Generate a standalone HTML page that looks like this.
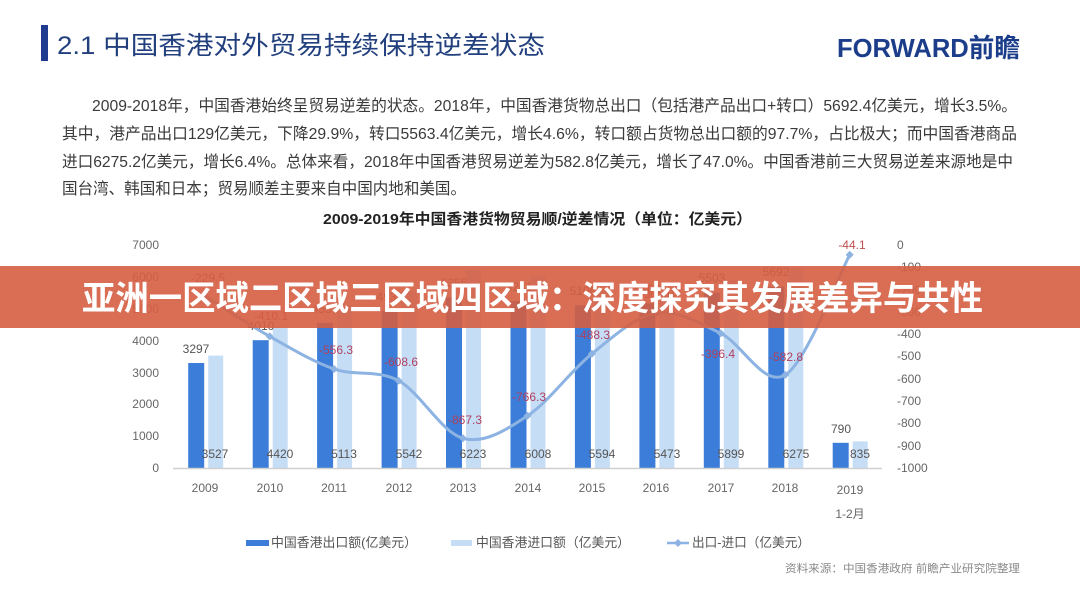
<!DOCTYPE html>
<html><head><meta charset="utf-8"><style>
html,body{margin:0;padding:0;background:#fff;}
svg{display:block;}
text{font-family:"Liberation Sans","Noto Sans CJK SC",sans-serif;}
</style></head><body>
<svg width="1080" height="595" viewBox="0 0 1080 595" xmlns="http://www.w3.org/2000/svg">
<rect width="1080" height="595" fill="#ffffff"/>
<!-- header -->
<rect x="41" y="25" width="7" height="36" fill="#1f3b8f"/>
<text x="57" y="54" font-size="25" fill="#23407e" textLength="488" lengthAdjust="spacingAndGlyphs">2.1 中国香港对外贸易持续保持逆差状态</text>
<text x="837" y="57" font-size="26" font-weight="bold" fill="#1b3d8a" textLength="183" lengthAdjust="spacingAndGlyphs">FORWARD前瞻</text>

<!-- paragraph -->
<g font-size="16" fill="#3a3a3a">
<text x="92" y="111" textLength="925" lengthAdjust="spacingAndGlyphs">2009-2018年，中国香港始终呈贸易逆差的状态。2018年，中国香港货物总出口（包括港产品出口+转口）5692.4亿美元，增长3.5%。</text>
<text x="62" y="139" textLength="955" lengthAdjust="spacingAndGlyphs">其中，港产品出口129亿美元，下降29.9%，转口5563.4亿美元，增长4.6%，转口额占货物总出口额的97.7%，占比极大；而中国香港商品</text>
<text x="62" y="167" textLength="951" lengthAdjust="spacingAndGlyphs">进口6275.2亿美元，增长6.4%。总体来看，2018年中国香港贸易逆差为582.8亿美元，增长了47.0%。中国香港前三大贸易逆差来源地是中</text>
<text x="62" y="194" textLength="404" lengthAdjust="spacingAndGlyphs">国台湾、韩国和日本；贸易顺差主要来自中国内地和美国。</text>
</g>

<!-- chart title -->
<text x="323" y="224" font-size="15" font-weight="bold" fill="#222" textLength="429" lengthAdjust="spacingAndGlyphs">2009-2019年中国香港货物贸易顺/逆差情况（单位：亿美元）</text>

<!-- left axis labels -->
<g font-size="12" fill="#666" text-anchor="end">
<text x="159" y="249">7000</text>
<text x="159" y="281">6000</text>
<text x="159" y="313">5000</text>
<text x="159" y="345">4000</text>
<text x="159" y="377">3000</text>
<text x="159" y="408">2000</text>
<text x="159" y="440">1000</text>
<text x="159" y="472">0</text>
</g>
<!-- right axis labels -->
<g font-size="12" fill="#666">
<text x="897" y="249">0</text>
<text x="897" y="271">-100</text>
<text x="897" y="294">-200</text>
<text x="897" y="316">-300</text>
<text x="897" y="338">-400</text>
<text x="897" y="360">-500</text>
<text x="897" y="383">-600</text>
<text x="897" y="405">-700</text>
<text x="897" y="427">-800</text>
<text x="897" y="450">-900</text>
<text x="897" y="472">-1000</text>
</g>

<!-- bars -->
<g fill="#3b7dd8">
<rect x="188.2" y="363.0" width="16" height="105.0"/>
<rect x="252.7" y="340.2" width="16" height="127.8"/>
<rect x="317.1" y="322.8" width="16" height="145.2"/>
<rect x="381.6" y="310.8" width="16" height="157.2"/>
<rect x="446.0" y="297.4" width="16" height="170.6"/>
<rect x="510.5" y="301.0" width="16" height="167.0"/>
<rect x="574.9" y="305.3" width="16" height="162.7"/>
<rect x="639.4" y="303.3" width="16" height="164.7"/>
<rect x="703.8" y="292.7" width="16" height="175.3"/>
<rect x="768.3" y="286.7" width="16" height="181.3"/>
<rect x="832.7" y="442.8" width="16" height="25.2"/>
</g>
<g fill="#c6ddf6">
<rect x="208.2" y="355.6" width="15" height="112.4"/>
<rect x="272.7" y="327.2" width="15" height="140.8"/>
<rect x="337.1" y="305.1" width="15" height="162.9"/>
<rect x="401.6" y="291.4" width="15" height="176.6"/>
<rect x="466.0" y="269.7" width="15" height="198.3"/>
<rect x="530.5" y="276.6" width="15" height="191.4"/>
<rect x="594.9" y="289.8" width="15" height="178.2"/>
<rect x="659.4" y="293.6" width="15" height="174.4"/>
<rect x="723.8" y="280.1" width="15" height="187.9"/>
<rect x="788.3" y="268.1" width="15" height="199.9"/>
<rect x="852.7" y="441.4" width="15" height="26.6"/>
</g>
<line x1="173" y1="468.5" x2="882" y2="468.5" stroke="#d0d0d0" stroke-width="1.5"/>

<!-- export labels -->
<g font-size="12" fill="#555" text-anchor="middle">
<text x="196" y="353">3297</text>
<text x="261" y="330">4010</text>
<text x="325" y="313">4557</text>
<text x="390" y="301">4934</text>
<text x="454" y="287">5355</text>
<text x="519" y="291">5241</text>
<text x="583" y="295">5106</text>
<text x="647" y="293">5168</text>
<text x="712" y="282">5503</text>
<text x="776" y="276">5692</text>
<text x="841" y="433">790</text>
</g>
<!-- import labels -->
<g font-size="12" fill="#555" text-anchor="middle">
<text x="215" y="458">3527</text>
<text x="280" y="458">4420</text>
<text x="344" y="458">5113</text>
<text x="409" y="458">5542</text>
<text x="473" y="458">6223</text>
<text x="538" y="458">6008</text>
<text x="602" y="458">5594</text>
<text x="667" y="458">5473</text>
<text x="731" y="458">5899</text>
<text x="796" y="458">6275</text>
<text x="860" y="458">835</text>
</g>

<!-- deficit line -->
<path d="M205.2,296.2 C215.9,302.9 248.2,324.3 269.7,336.4 C291.2,348.5 312.6,361.6 334.1,369.0 C355.6,376.4 377.1,369.2 398.6,380.7 C420.1,392.3 441.5,432.5 463.0,438.3 C484.5,444.2 506.0,429.9 527.5,415.8 C549.0,401.7 570.4,370.9 591.9,353.8 C613.4,336.7 634.9,316.4 656.4,313.0 C677.9,309.6 699.3,323.1 720.8,333.4 C742.3,343.7 763.8,388.0 785.3,374.9 C806.8,361.8 839.0,274.8 849.7,254.8" fill="none" stroke="#8db3e2" stroke-width="3"/>
<g fill="#8db3e2">
<path d="M205.2,292.2 l4,4 l-4,4 l-4,-4z"/>
<path d="M269.7,332.4 l4,4 l-4,4 l-4,-4z"/>
<path d="M334.1,365.0 l4,4 l-4,4 l-4,-4z"/>
<path d="M398.6,376.7 l4,4 l-4,4 l-4,-4z"/>
<path d="M463.0,434.3 l4,4 l-4,4 l-4,-4z"/>
<path d="M527.5,411.8 l4,4 l-4,4 l-4,-4z"/>
<path d="M591.9,349.8 l4,4 l-4,4 l-4,-4z"/>
<path d="M656.4,309.0 l4,4 l-4,4 l-4,-4z"/>
<path d="M720.8,329.4 l4,4 l-4,4 l-4,-4z"/>
<path d="M785.3,370.9 l4,4 l-4,4 l-4,-4z"/>
<path d="M849.7,250.8 l4,4 l-4,4 l-4,-4z"/>
</g>
<g font-size="12" fill="#b0415f" text-anchor="middle">
<text x="208" y="282">-229.5</text>
<text x="271" y="320">-410.1</text>
<text x="336" y="354">-556.3</text>
<text x="401" y="366">-608.6</text>
<text x="465" y="424">-867.3</text>
<text x="529" y="401">-766.3</text>
<text x="593" y="339">-488.3</text>
<text x="657" y="298">-305.0</text>
<text x="718" y="358">-396.4</text>
<text x="786" y="361">-582.8</text>
<text x="852" y="249" fill="#c0504d">-44.1</text>
</g>

<!-- year labels -->
<g font-size="12" fill="#666" text-anchor="middle">
<text x="205" y="492">2009</text>
<text x="270" y="492">2010</text>
<text x="334" y="492">2011</text>
<text x="399" y="492">2012</text>
<text x="463" y="492">2013</text>
<text x="528" y="492">2014</text>
<text x="592" y="492">2015</text>
<text x="656" y="492">2016</text>
<text x="721" y="492">2017</text>
<text x="785" y="492">2018</text>
<text x="850" y="494">2019</text>
<text x="850" y="518">1-2月</text>
</g>

<!-- legend -->
<rect x="246" y="540" width="23" height="6" fill="#3b7dd8"/>
<text x="271" y="547" font-size="13" fill="#555" textLength="146" lengthAdjust="spacingAndGlyphs">中国香港出口额(亿美元）</text>
<rect x="451" y="540" width="21" height="6" fill="#c6ddf6"/>
<text x="476" y="547" font-size="13" fill="#555" textLength="154" lengthAdjust="spacingAndGlyphs">中国香港进口额（亿美元）</text>
<line x1="667" y1="543" x2="689" y2="543" stroke="#8db3e2" stroke-width="2.5"/>
<path d="M678,539 l4,4 l-4,4 l-4,-4z" fill="#8db3e2"/>
<text x="692" y="547" font-size="13" fill="#555" textLength="118" lengthAdjust="spacingAndGlyphs">出口-进口（亿美元）</text>
<text x="785" y="572" font-size="11" fill="#888" textLength="235" lengthAdjust="spacingAndGlyphs">资料来源：中国香港政府 前瞻产业研究院整理</text>

<!-- overlay banner -->
<rect x="0" y="266" width="1080" height="62" fill="rgba(213,94,66,0.9)"/>
<text x="82" y="310" font-size="34" font-weight="bold" fill="#ffffff" textLength="901" lengthAdjust="spacingAndGlyphs">亚洲一区域二区域三区域四区域：深度探究其发展差异与共性</text>
</svg>
</body></html>
